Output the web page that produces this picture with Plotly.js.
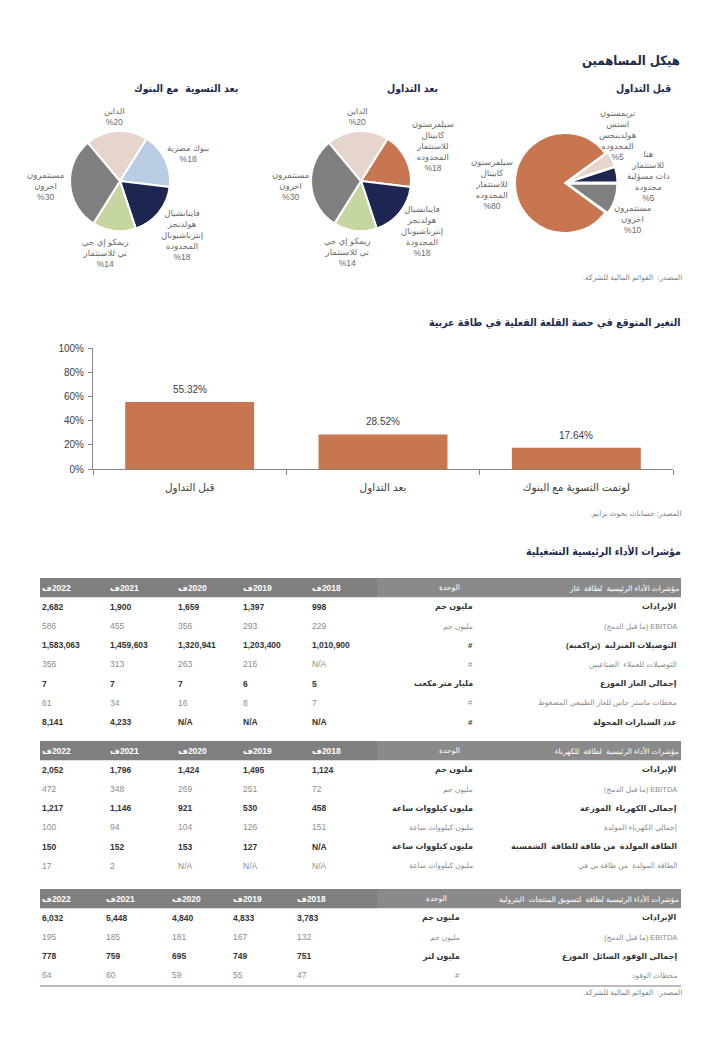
<!DOCTYPE html>
<html><head><meta charset="utf-8">
<script src="https://cdn.plot.ly/plotly-3.0.1.min.js"></script>
<style>html,body{margin:0;padding:0;background:#fff}#chart{width:720px;height:1040px}</style>
</head><body><div id="chart"></div>
<script>
// ================= DATA =================
const pageTitle = 'هيكل المساهمين';
const pieTitles = ['قبل التداول', 'بعد التداول', 'بعد التسوية  مع البنوك'];

const preLabels = ['مستثمرون<br>اخرون', 'سيلفرستون<br>كابيتال<br>للاستثمار<br>المحدوده', 'تريمستون<br>استس<br>هولدينجس<br>المحدوده', 'هنا<br>للاستثمار<br>ذات مسؤلية<br>محدوده'];
const preValues = [10, 80, 5, 5];
const postLabels = ['سيلفرستون<br>كابيتال<br>للاستثمار<br>المحدوده', 'فاينانشيال<br>هولدنجز<br>إنترناشيونال<br>المحدودة', 'ريمكو إي جي<br>تي للاستثمار', 'مستثمرون<br>اخرون', 'الداين'];
const postValues = [18, 18, 14, 30, 20];
const bankLabels = ['بنوك مصرية', 'فاينانشيال<br>هولدنجز<br>إنترناشيونال<br>المحدودة', 'ريمكو إي جي<br>تي للاستثمار', 'مستثمرون<br>اخرون', 'الداين'];
const bankValues = [18, 18, 14, 30, 20];

const stakeTitle = 'التغير المتوقع في حصة القلعة الفعلية في طاقة عربية';
const stakeCategories = ['قبل التداول', 'بعد التداول', 'لوتمت التسوية مع البنوك'];
const stakeValues = [0.5532, 0.2852, 0.1764];
const stakeTicks = [0, 0.2, 0.4, 0.6, 0.8, 1];

const kpiTitle = 'مؤشرات الأداء الرئيسية التشغيلية';
const years = ['2018', '2019', '2020', '2021', '2022'];
const forecastMark = 'ف';
const unitHeader = 'الوحدة';

const gasTitle = 'مؤشرات الأداء الرئيسية  لطاقة  غاز';
const gasMetrics = ['الإيرادات', 'EBITDA (ما قبل الدمج)', 'التوصيلات المنزلية  (تراكمية)', 'التوصيلات للعملاء  الصناعيين', 'إجمالي الغاز الموزع', 'محطات ماستر جاس للغاز الطبيعي المضغوط', 'عدد السيارات المحولة'];
const gasUnits = ['مليون جم', 'مليون جم', '#', '#', 'مليار متر مكعب', '#', '#'];
const gasValues = [
  [998, 1397, 1659, 1900, 2682],
  [229, 293, 356, 455, 586],
  [1010900, 1203400, 1320941, 1459603, 1583063],
  [null, 216, 263, 313, 356],
  [5, 6, 7, 7, 7],
  [7, 8, 16, 34, 61],
  [null, null, null, 4233, 8141]
];

const powerTitle = 'مؤشرات الأداء الرئيسية  لطاقة  للكهرباء';
const powerMetrics = ['الإيرادات', 'EBITDA (ما قبل الدمج)', 'إجمالي الكهرباء  الموزعة', 'إجمالي الكهرباء المولدة', 'الطاقة المولدة  من طاقة للطاقة  الشمسية', 'الطاقة المولدة  من طاقة بي في'];
const powerUnits = ['مليون جم', 'مليون جم', 'مليون كيلووات ساعة', 'مليون كيلووات ساعة', 'مليون كيلووات ساعة', 'مليون كيلووات ساعة'];
const powerValues = [
  [1124, 1495, 1424, 1796, 2052],
  [72, 251, 269, 348, 472],
  [458, 530, 921, 1146, 1217],
  [151, 126, 104, 94, 100],
  [null, 127, 153, 152, 150],
  [null, null, null, 2, 17]
];

const fuelTitle = 'مؤشرات الأداء الرئيسية لطاقة  لتسويق المنتجات  البترولية';
const fuelMetrics = ['الإيرادات', 'EBITDA (ما قبل الدمج)', 'إجمالي الوقود السائل  الموزع', 'محطات الوقود'];
const fuelUnits = ['مليون جم', 'مليون جم', 'مليون لتر', '#'];
const fuelValues = [
  [3783, 4833, 4840, 5448, 6032],
  [132, 167, 181, 185, 195],
  [751, 749, 695, 759, 778],
  [47, 55, 59, 60, 64]
];

const sourceCompany = 'المصدر:  القوائم المالية للشركة.';
const sourceResearch = 'المصدر: حسابات بحوث برايم.';

// ================= LAYOUT HELPERS =================
const W = 720, H = 1040;
const X = p => p / W, Y = p => 1 - p / H;
const FONT = 'Liberation Sans, DejaVu Sans, sans-serif';
const TFONT = 'DejaVu Sans Condensed, DejaVu Sans, sans-serif';
const NAVY = '#1B2A4E';
const rtl = s => '\u202B' + s + '\u202C';
const fmt = v => v === null ? 'N/A' : v.toLocaleString('en-US');

const annotations = [];
const shapes = [];
function txt(text, x, y, o) {
  o = o || {};
  annotations.push({
    text: text, x: X(x), y: Y(y), xref: 'paper', yref: 'paper', showarrow: false,
    xanchor: o.xanchor || 'center', yanchor: o.yanchor || 'middle', align: o.align || 'center',
    borderpad: 0, borderwidth: 0,
    font: { family: o.family || FONT, size: o.size || 9, color: o.color || '#595959', weight: o.weight || 'normal' }
  });
}

// ================= TITLES =================
txt(pageTitle, 680, 60, { xanchor: 'right', size: 13, color: NAVY, weight: 'bold', family: TFONT });
[671, 438, 238].forEach((r, i) => txt(pieTitles[i], r, 88, { xanchor: 'right', size: 10.5, color: NAVY, weight: 'bold', family: TFONT }));
txt(rtl(sourceCompany), 682, 278, { xanchor: 'right', size: 7.5, color: '#7F7F7F' });
txt(stakeTitle, 681, 322, { xanchor: 'right', size: 10.5, color: NAVY, weight: 'bold', family: TFONT });
txt(rtl(sourceResearch), 681, 513, { xanchor: 'right', size: 7.5, color: '#7F7F7F' });
txt(kpiTitle, 681, 551, { xanchor: 'right', size: 10.5, color: NAVY, weight: 'bold', family: TFONT });
txt(rtl(sourceCompany), 682, 992, { xanchor: 'right', size: 7.5, color: '#7F7F7F' });

// ================= PIES =================
const C_OR = '#C7764F', C_NV = '#1C2651', C_BG = '#E6D5CD', C_GR = '#7F7F7F', C_GN = '#C5D6A0', C_BL = '#B8CCE4';
const pies = [
  { labels: preLabels, values: preValues, colors: [C_GR, C_OR, C_BG, C_NV], cx: 565, cy: 183, r: 50, rot: 90, pull: [0.05, 0, 0.05, 0.05],
    pos: [[632, 219], [492, 184], [617, 135], [648, 176]] },
  { labels: postLabels, values: postValues, colors: [C_OR, C_NV, C_GN, C_GR, C_BG], cx: 361, cy: 181, r: 50, rot: 32, pull: [0, 0, 0, 0, 0],
    pos: [[433, 146], [422, 231], [347, 252], [290, 186], [357, 116]] },
  { labels: bankLabels, values: bankValues, colors: [C_BL, C_NV, C_GN, C_GR, C_BG], cx: 120, cy: 181, r: 50, rot: 32, pull: [0, 0, 0, 0, 0],
    pos: [[188, 153], [182, 235], [105, 253], [45, 186], [115, 116]] }
];
const traces = [];
pies.forEach(p => {
  const mp = Math.max.apply(null, p.pull);
  const h = p.r * (1 + mp);
  traces.push({
    type: 'pie', labels: p.labels, values: p.values, sort: false, direction: 'clockwise', rotation: p.rot,
    pull: p.pull, textinfo: 'none', hoverinfo: 'skip',
    marker: { colors: p.colors, line: { color: '#FFFFFF', width: 2 } },
    domain: { x: [X(p.cx - h), X(p.cx + h)], y: [Y(p.cy + h), Y(p.cy - h)] }
  });
  p.labels.forEach((lab, i) => txt(lab + '<br>%' + p.values[i], p.pos[i][0], p.pos[i][1], { size: 8.5, color: '#6B6B6B' }));
});

// ================= BAR CHART =================
traces.push({
  type: 'bar', x: stakeCategories, y: stakeValues, xaxis: 'x', yaxis: 'y',
  marker: { color: C_OR }, hoverinfo: 'skip'
});
stakeCategories.forEach((c, i) => {
  annotations.push({
    text: (stakeValues[i] * 100).toFixed(2) + '%', x: c, y: stakeValues[i], xref: 'x', yref: 'y',
    showarrow: false, yanchor: 'bottom', yshift: 7, borderpad: 0, borderwidth: 0,
    font: { family: FONT, size: 10, color: '#404040' }
  });
});

// ================= TABLES =================
const tables = [
  { title: gasTitle, metrics: gasMetrics, units: gasUnits, values: gasValues, top: 578,
    yearX: [312, 243, 178, 110, 42], unitR: 473, unitHR: 460, labelR: 677 },
  { title: powerTitle, metrics: powerMetrics, units: powerUnits, values: powerValues, top: 741,
    yearX: [312, 243, 178, 110, 42], unitR: 473, unitHR: 460, labelR: 677 },
  { title: fuelTitle, metrics: fuelMetrics, units: fuelUnits, values: fuelValues, top: 889,
    yearX: [297, 233, 172, 106, 42], unitR: 460, unitHR: 447, labelR: 677 }
];
const ROW = 19.2, TL = 40, TR = 681, SPLIT = 377;
tables.forEach((t, ti) => {
  shapes.push({ type: 'rect', xref: 'paper', yref: 'paper', x0: X(TL), x1: X(SPLIT), y0: Y(t.top + ROW), y1: Y(t.top), fillcolor: '#7F7F7F', line: { width: 0 }, layer: 'below' });
  shapes.push({ type: 'rect', xref: 'paper', yref: 'paper', x0: X(SPLIT), x1: X(TR), y0: Y(t.top + ROW), y1: Y(t.top), fillcolor: '#8A8A8A', line: { width: 0 }, layer: 'below' });
  const hy = t.top + ROW / 2;
  years.forEach((yr, j) => txt(rtl(yr + forecastMark), t.yearX[j], hy, { xanchor: 'left', size: 8.5, color: '#FFFFFF', weight: 'bold' }));
  txt(unitHeader, t.unitHR, hy, { xanchor: 'right', size: 7.5, color: '#FFFFFF' });
  txt(t.title, t.labelR + 2, hy, { xanchor: 'right', size: 7.5, color: '#FFFFFF' });
  t.metrics.forEach((m, i) => {
    const y = t.top + ROW * (i + 1) + ROW / 2;
    const strong = i % 2 === 0;
    const col = strong ? '#333333' : '#8C8C8C';
    const w = strong ? 'bold' : 'normal';
    t.values[i].forEach((v, j) => txt(fmt(v), t.yearX[j], y, { xanchor: 'left', size: 8.5, color: col, weight: w }));
    txt(t.units[i], t.unitR, y, { xanchor: 'right', size: strong ? 8 : 7.5, color: col, weight: w });
    txt(rtl(m), t.labelR, y, { xanchor: 'right', size: strong ? 8 : 7.5, color: col, weight: w });
  });
  if (ti === tables.length - 1) {
    const yb = t.top + ROW * (t.metrics.length + 1) + 1;
    shapes.push({ type: 'line', xref: 'paper', yref: 'paper', x0: X(TL), x1: X(TR), y0: Y(yb), y1: Y(yb), line: { color: '#A6A6A6', width: 1.5 } });
  }
});

// ================= LAYOUT =================
const layout = {
  width: W, height: H, margin: { l: 0, r: 0, t: 0, b: 0 },
  paper_bgcolor: '#FFFFFF', plot_bgcolor: 'rgba(0,0,0,0)', showlegend: false,
  font: { family: FONT, color: '#404040' },
  bargap: 0.333,
  xaxis: {
    domain: [X(93), X(673)], anchor: 'y', showline: true, linecolor: '#868686', linewidth: 1,
    ticks: 'outside', tickson: 'boundaries', ticklen: 5, tickcolor: '#868686', ticklabelstandoff: 8,
    tickfont: { family: FONT, size: 10.5, color: '#404040' }, showgrid: false, fixedrange: true
  },
  yaxis: {
    domain: [Y(469), Y(348)], anchor: 'x', range: [0, 1], tickvals: stakeTicks, tickformat: '.0%',
    showline: true, linecolor: '#868686', linewidth: 1, ticks: 'outside', ticklen: 4, tickcolor: '#868686',
    ticklabelstandoff: 2,
    tickfont: { family: FONT, size: 10, color: '#404040' }, showgrid: false, zeroline: false, fixedrange: true
  },
  annotations: annotations, shapes: shapes
};
Plotly.newPlot('chart', traces, layout, { staticPlot: true, displayModeBar: false });
</script>
</body></html>
